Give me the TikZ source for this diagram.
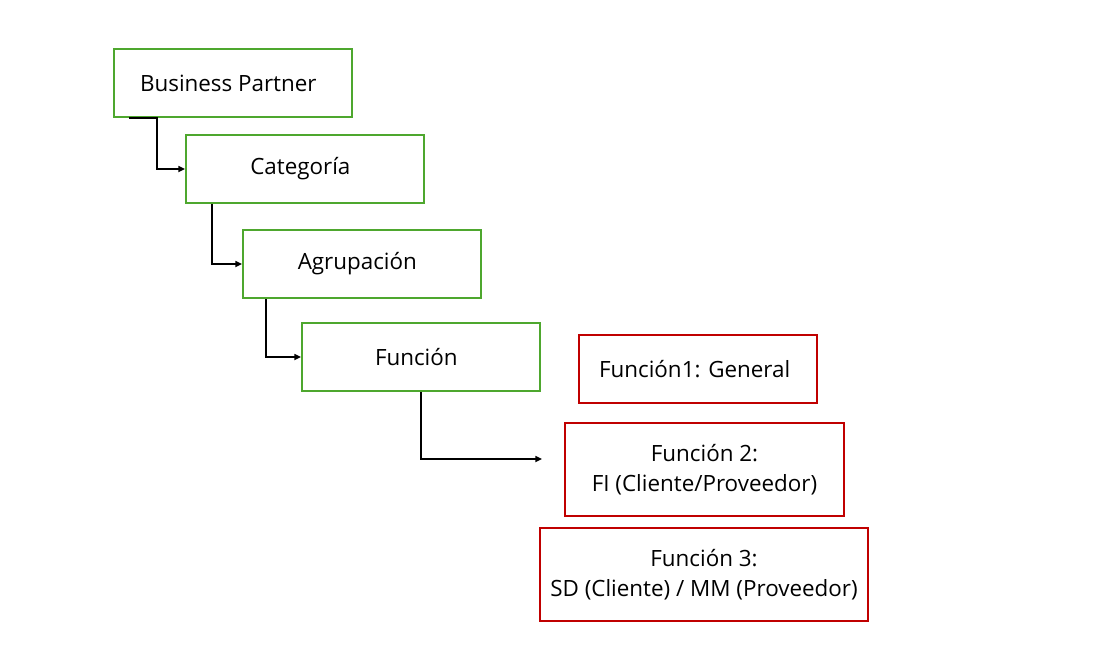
\documentclass[tikz,border=0pt]{standalone}
\usepackage{fontspec}
\setmainfont{Open Sans}
\usepackage{xcolor}
\usetikzlibrary{arrows.meta}
\definecolor{boxgreen}{HTML}{4EA72E}
\definecolor{boxred}{HTML}{C00000}

\tikzset{
  level/.style={draw=boxgreen, line width=1.5pt, minimum width=178.5pt,
                minimum height=51pt, inner sep=0pt, align=center},
  func/.style={draw=boxred, line width=1.5pt, minimum height=69.75pt,
               inner sep=0pt, align=center},
  link/.style={line width=1.2pt, -{Triangle[length=5pt,width=4.5pt]}}
}

\begin{document}
\begin{tikzpicture}[x=0.75pt, y=-0.75pt,
    every node/.style={font=\fontsize{16.8pt}{22.5pt}\selectfont}]
    \useasboundingbox (0,0) rectangle (1099,647);

    % jerarquia
    \node[level] (bp)  at (233,83)  {Business Partner\kern7pt};
    \node[level] (cat) at (305,169) {Categoría\kern7pt};
    \node[level] (agr) at (362,264) {Agrupación\kern7pt};
    \node[level] (fun) at (421,357) {Función\kern7pt};

    % funciones
    \node[func, minimum width=178.5pt, minimum height=51pt] (f1) at (698,369) {Función1: General\kern5pt};
    \node[func, minimum width=209.25pt] (f2) at (704.5,469.5) {Función 2:\\FI (Cliente/Proveedor)};
    \node[func, minimum width=246pt] (f3) at (704,574.5) {Función 3:\\SD (Cliente) / MM (Proveedor)};

    \coordinate (fout) at (542,459);

    \draw[link] ([xshift=12pt]bp.south west) -- ([xshift=33pt]bp.south west) |- (cat.west);
    \draw[link] ([xshift=20.25pt]cat.south west) |- (agr.west);
    \draw[link] ([xshift=18pt]agr.south west) |- (fun.west);
    \draw[link] (fun.south) |- (fout);
\end{tikzpicture}
\end{document}
